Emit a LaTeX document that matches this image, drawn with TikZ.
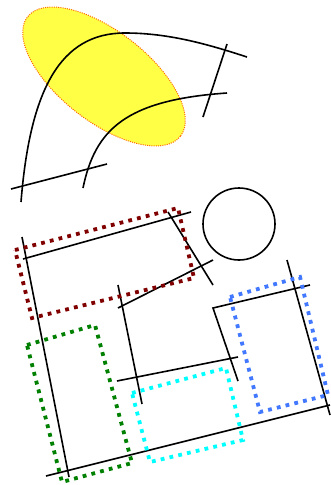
\documentclass[tikz,border=0pt]{standalone}
\definecolor{dkred}{RGB}{128,0,0}
\definecolor{dkgreen}{RGB}{0,128,0}
\definecolor{myblue}{RGB}{65,120,255}
\definecolor{mycyan}{RGB}{0,255,255}
\definecolor{myorange}{RGB}{255,100,0}
\definecolor{myyellow}{RGB}{255,255,70}
\tikzset{
  blk/.style={draw=black, line width=1.6pt},
  dotbox/.style={line width=3.8pt, dash pattern=on 3.8pt off 5.2pt},
}
\begin{document}
\begin{tikzpicture}[x=1pt,y=-1pt]
\useasboundingbox (0,0) rectangle (330,485);
% ellipse
\fill[myyellow, rotate around={-38:(104,76.5)}] (104,76.5) ellipse [x radius=97, y radius=45];
\draw[myorange, line width=1pt, dash pattern=on 1pt off 1.2pt, rotate around={-38:(104,76.5)}] (104,76.5) ellipse [x radius=97, y radius=45];
% top curves and lines
\draw[blk] (21,202) .. controls (30,90) and (60,33) .. (125,33) .. controls (170,33) and (210,45) .. (247,57);
\draw[blk] (83,188) .. controls (95,130) and (125,100) .. (227,93);
\draw[blk] (11,189) -- (107,164);
\draw[blk] (227,44) -- (203,117);
% circle
\draw[blk] (239,224) circle [radius=36];
% lower lines
\draw[blk] (22,237) -- (69,477);
\draw[blk] (23,259) -- (191,212);
\draw[blk] (168,212) -- (213,285);
\draw[blk] (118,308) -- (213,260);
\draw[blk] (118,285) -- (142,404);
\draw[blk] (310,285) -- (213,308) -- (238,381);
\draw[blk] (287,260) -- (330,415);
\draw[blk] (46,476) -- (330,405);
\draw[blk] (117,381) -- (238,357);
% dotted boxes
\draw[dotbox, dkred] (15,250) -- (178,208) -- (194,278) -- (32,318) -- cycle;
\draw[dotbox, dkgreen] (27,345) -- (95,325) -- (132,463) -- (62,482) -- cycle;
\draw[dotbox, myblue] (230,297) -- (300,277) -- (328,395) -- (260,412) -- cycle;
\draw[dotbox, mycyan] (132,393) -- (226,368) -- (243,440) -- (150,462) -- cycle;
\end{tikzpicture}
\end{document}
